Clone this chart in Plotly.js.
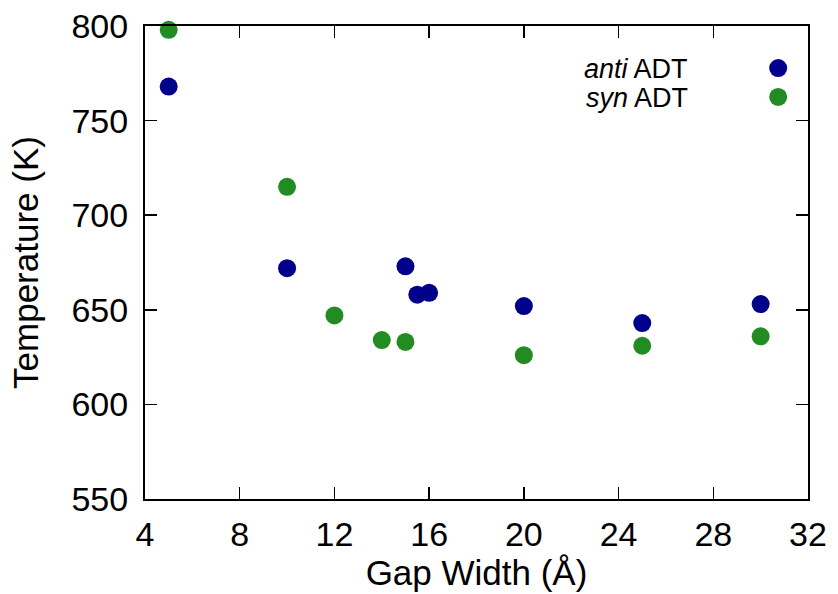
<!DOCTYPE html>
<html>
<head>
<meta charset="utf-8">
<script src="https://cdn.plot.ly/plotly-3.0.1.min.js"></script>
<style>html,body{margin:0;padding:0;background:#fff;}#chart{width:838px;height:594px;}</style>
</head>
<body>
<div id="chart"></div>
<script>
const antiGap = [5, 10, 15, 15.5, 16, 20, 25, 30];
const antiTemp = [768, 672, 673, 658, 659, 652, 643, 653];
const synGap = [5, 10, 12, 14, 15, 20, 25, 30];
const synTemp = [798, 715, 647, 634, 633, 626, 631, 636];
const xTicks = [4, 8, 12, 16, 20, 24, 28, 32];
const yTicks = [550, 600, 650, 700, 750, 800];
const legendLabels = ['<i>anti</i> ADT', '<i>syn</i> ADT'];

const blue = '#00008b';
const green = '#228b22';
const fontFam = 'Liberation Sans, Arial, sans-serif';

const traces = [
  {x: antiGap, y: antiTemp, mode: 'markers', type: 'scatter', name: 'anti ADT',
   marker: {color: blue, size: 18}, cliponaxis: false, showlegend: false},
  {x: synGap, y: synTemp, mode: 'markers', type: 'scatter', name: 'syn ADT',
   marker: {color: green, size: 18}, cliponaxis: false, showlegend: false}
];

const axisCommon = {
  showgrid: false, zeroline: false, showline: true, linecolor: '#000', linewidth: 2,
  mirror: 'ticks', ticks: 'inside', ticklen: 12, tickwidth: 1.5, tickcolor: '#000',
  tickfont: {family: fontFam, size: 34, color: '#000'}
};

const layout = {
  width: 838, height: 594,
  margin: {l: 145, r: 30, t: 26, b: 95},
  paper_bgcolor: '#fff', plot_bgcolor: '#fff',
  font: {family: fontFam, color: '#000'},
  xaxis: Object.assign({}, axisCommon, {
    range: [4, 32], tickmode: 'array', tickvals: xTicks, ticktext: xTicks.map(String),
    ticklabelstandoff: 4,
    title: {text: 'Gap Width (Å)', font: {family: fontFam, size: 35, color: '#000'}, standoff: 0}
  }),
  yaxis: Object.assign({}, axisCommon, {
    range: [550, 800], tickmode: 'array', tickvals: yTicks, ticktext: yTicks.map(String),
    ticklabelstandoff: 8,
    title: {text: 'Temperature (K)', font: {family: fontFam, size: 35, color: '#000'}, standoff: 22}
  }),
  annotations: [
    {xref: 'paper', yref: 'paper', x: 0.822, y: 0.909, xanchor: 'right', yanchor: 'middle',
     text: legendLabels[0], showarrow: false, font: {family: fontFam, size: 27, color: '#000'}},
    {xref: 'paper', yref: 'paper', x: 0.822, y: 0.848, xanchor: 'right', yanchor: 'middle',
     text: legendLabels[1], showarrow: false, font: {family: fontFam, size: 27, color: '#000'}}
  ],
  shapes: [
    {type: 'circle', xref: 'paper', yref: 'paper', xsizemode: 'pixel', ysizemode: 'pixel',
     xanchor: 0.955, yanchor: 0.911, x0: -9, x1: 9, y0: -9, y1: 9,
     fillcolor: blue, line: {width: 0}},
    {type: 'circle', xref: 'paper', yref: 'paper', xsizemode: 'pixel', ysizemode: 'pixel',
     xanchor: 0.955, yanchor: 0.850, x0: -9, x1: 9, y0: -9, y1: 9,
     fillcolor: green, line: {width: 0}}
  ]
};

Plotly.newPlot('chart', traces, layout, {displayModeBar: false, staticPlot: true});
</script>
</body>
</html>
